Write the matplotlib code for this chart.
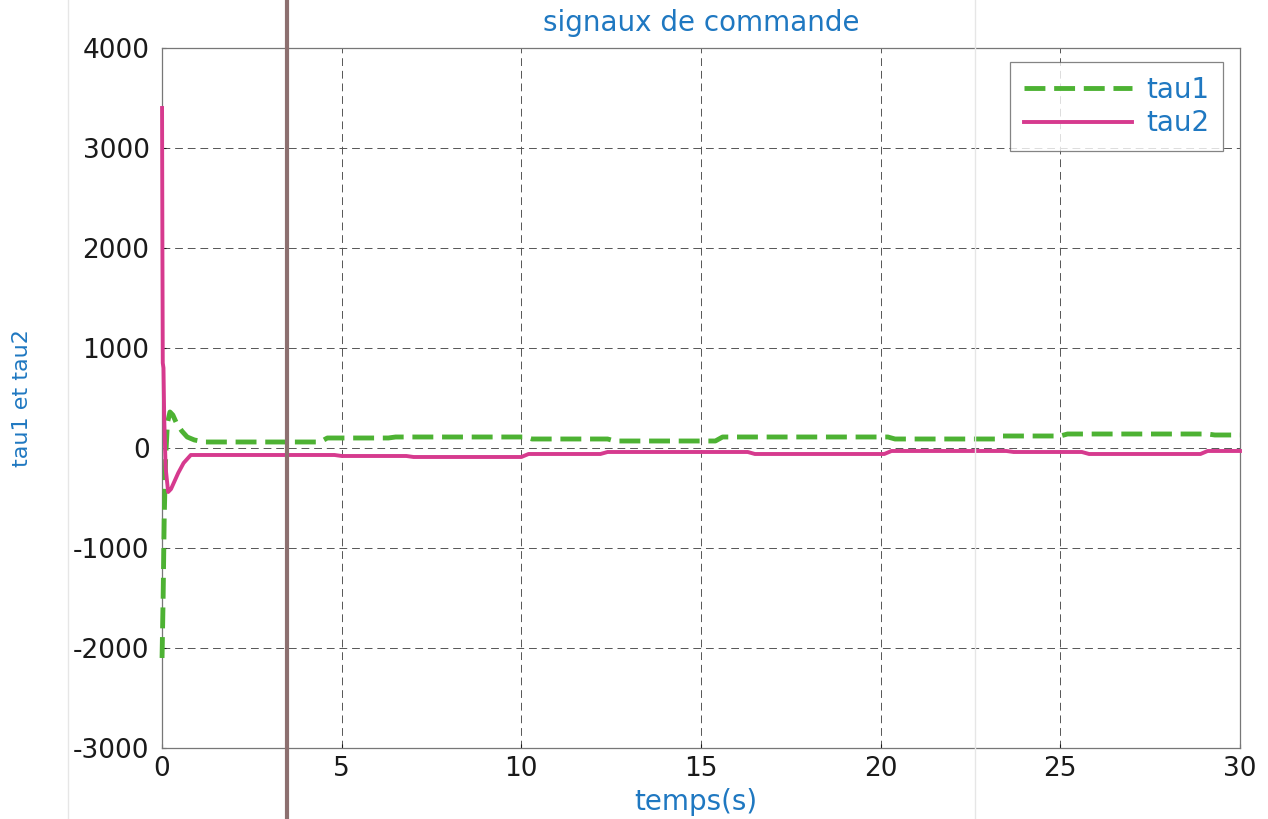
import matplotlib
matplotlib.use("Agg")
import matplotlib.pyplot as plt
from matplotlib.lines import Line2D

# Data (time in s, torque values)
t_tau1 = [0.0, 0.03, 0.06, 0.1, 0.15, 0.22, 0.3, 0.4, 0.55, 0.7, 0.9, 1.2,
          4.4, 4.6, 6.3, 6.5, 10.1, 10.3, 12.4, 12.6, 15.4, 15.6, 20.2, 20.4,
          23.2, 23.4, 25.0, 25.2, 29.1, 29.3, 30.0]
v_tau1 = [-2100, -1500, -700, -100, 250, 360, 330, 250, 170, 110, 80, 60,
          60, 100, 100, 110, 110, 90, 90, 70, 70, 110, 110, 90,
          90, 120, 120, 140, 140, 130, 130]

t_tau2 = [0.0, 0.01, 0.02, 0.04, 0.06, 0.1, 0.17, 0.25, 0.35, 0.45, 0.6, 0.8,
          4.8, 5.0, 6.8, 7.0, 10.0, 10.2, 12.2, 12.4, 16.3, 16.5, 20.1, 20.3,
          23.5, 23.7, 25.6, 25.8, 28.9, 29.1, 30.0]
v_tau2 = [3400, 2000, 850, 800, 300, -200, -440, -410, -330, -250, -150, -70,
          -70, -80, -80, -90, -90, -60, -60, -40, -40, -60, -60, -30,
          -30, -40, -40, -60, -60, -30, -30]

x_ticks = [0, 5, 10, 15, 20, 25, 30]
y_ticks = [-3000, -2000, -1000, 0, 1000, 2000, 3000, 4000]

blue = "#1f78c1"
green = "#4db233"
magenta = "#d63a8e"

plt.rcParams['font.family'] = ['DejaVu Sans']
plt.rcParams['axes.unicode_minus'] = False

fig = plt.figure(figsize=(12.68, 8.19), dpi=100)
ax = fig.add_axes([0.1278, 0.0867, 0.8501, 0.8547])

ax.plot(t_tau1, v_tau1, color=green, lw=3.5, ls=(0, (4.3, 1.8)),
        label="tau1", clip_on=False, zorder=3)
ax.plot(t_tau2, v_tau2, color=magenta, lw=2.8, label="tau2",
        clip_on=False, zorder=3)

ax.set_xlim(0, 30)
ax.set_ylim(-3000, 4000)
ax.set_xticks(x_ticks)
ax.set_yticks(y_ticks)
ax.tick_params(labelsize=19, direction="in", length=3, colors="#1a1a1a")
ax.tick_params(axis="y", pad=9)
ax.tick_params(axis="x", pad=6)
ax.grid(True, color="#555555", ls=(0, (8, 5)), lw=0.7)
for s in ax.spines.values():
    s.set_color("#777777")
    s.set_linewidth(0.9)

ax.set_title("signaux de commande", color=blue, fontsize=20, pad=12)
ax.set_xlabel("temps(s)", color=blue, fontsize=20)
ax.xaxis.set_label_coords(0.495, -0.057)
ax.set_ylabel("tau1 et tau2", color=blue, fontsize=16)
ax.yaxis.set_label_coords(-0.121, 0.5)

leg = ax.legend(loc="upper right", bbox_to_anchor=(0.9842, 0.98),
                fontsize=20, frameon=True, fancybox=False,
                edgecolor="#666666", handlelength=3.9, handletextpad=0.5,
                borderaxespad=0, borderpad=0.5, labelspacing=0.2)
leg.get_frame().set_linewidth(0.9)
for txt in leg.get_texts():
    txt.set_color(blue)

# scan artefacts: dark vertical stripe and faint paper lines
fig.add_artist(Line2D([287 / 1268, 287 / 1268], [0, 1], color="#8d7070", lw=3))
fig.add_artist(Line2D([68 / 1268, 68 / 1268], [0, 1], color="#e6e6e6", lw=1))
fig.add_artist(Line2D([975 / 1268, 975 / 1268], [0, 1], color="#e6e6e6", lw=1))

fig.savefig("out.png", dpi=100)
